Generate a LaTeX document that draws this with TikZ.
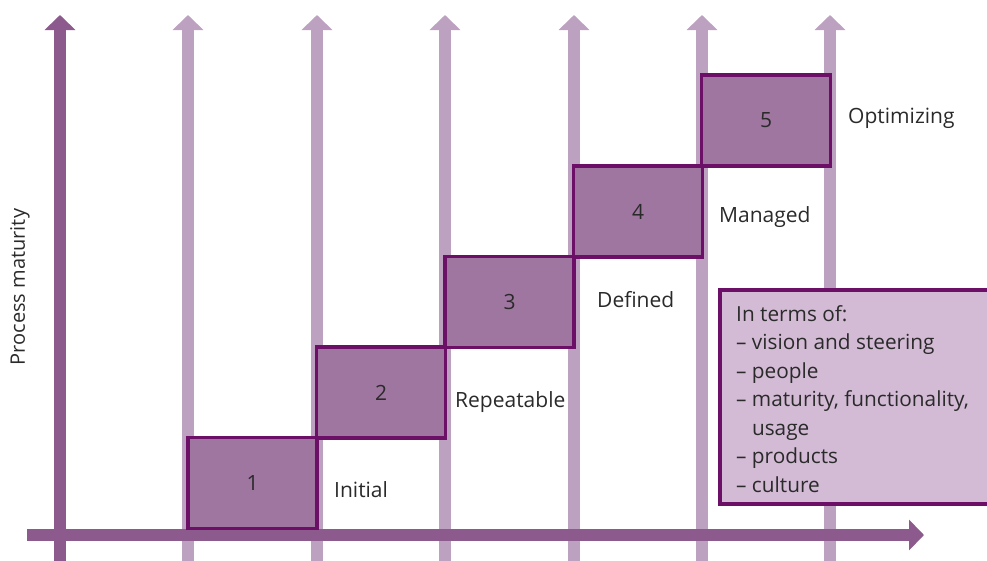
\documentclass[tikz,border=0pt]{standalone}
\usepackage{fontspec}
\setmainfont{Open Sans}
\usetikzlibrary{arrows.meta}
\definecolor{axisc}{HTML}{8C5A8C}
\definecolor{lightc}{HTML}{BDA1C1}
\definecolor{boxfill}{HTML}{9E76A0}
\definecolor{boxline}{HTML}{6B0F67}
\definecolor{infofill}{HTML}{D3BBD6}
\definecolor{txt}{HTML}{2A2A2A}
\tikzset{
  lightarrow/.style={draw=lightc, line width=12pt, -{Triangle[length=15pt,width=30pt]}},
  mainarrow/.style={draw=axisc, line width=12pt, -{Triangle[length=15pt,width=30pt]}},
  stagebox/.style={draw=boxline, fill=boxfill, line width=3.5pt, minimum width=129pt, minimum height=91pt, inner sep=0pt, text=txt, font=\fontsize{21}{25}\selectfont},
  levellabel/.style={anchor=base west, inner sep=0pt, text=txt, font=\fontsize{21}{25}\selectfont},
}
\begin{document}
\begin{tikzpicture}[x=1pt,y=-1pt]
\clip (0,0) rectangle (987,560);
% light vertical arrows
\foreach \x/\n in {188/a1,317/a2,445/a3,574/a4,702/a5,830/a6}{
  \coordinate (\n s) at (\x,562);
  \coordinate (\n t) at (\x,15);
  \draw[lightarrow] (\n s) -- (\n t);
}
% main vertical axis
\coordinate (ys) at (60,562);
\coordinate (yt) at (60,15);
\draw[mainarrow] (ys) -- (yt);
% horizontal axis
\coordinate (xs) at (27,535);
\coordinate (xt) at (924,535);
\draw[mainarrow] (xs) -- (xt);
% stage boxes
\node[stagebox] (b1) at (252.5,483) {1};
\node[stagebox] (b2) at (381,392.5) {2};
\node[stagebox] (b3) at (509.5,302) {3};
\node[stagebox] (b4) at (638,211.5) {4};
\node[stagebox] (b5) at (766,120.5) {5};
% labels
\node[levellabel] (l1) at (334,497) {Initial};
\node[levellabel] (l2) at (455,407) {Repeatable};
\node[levellabel] (l3) at (597,307) {Defined};
\node[levellabel] (l4) at (719,222) {Managed};
\node[levellabel] (l5) at (848,123) {Optimizing};
% info box
\draw[draw=boxline, fill=infofill, line width=3.5pt] (720,290) rectangle (1000,504);
\node[anchor=north west, inner sep=0pt, align=left, text=txt, font=\fontsize{20.8}{28.5}\selectfont] (info) at (736,305)
  {In terms of:\\
   – vision and steering\\
   – people\\
   – maturity, functionality,\\
   \phantom{– }usage\\
   – products\\
   – culture};
% y-axis label
\node[rotate=90, inner sep=0pt, text=txt, font=\fontsize{20}{24}\selectfont] (ylab) at (20,287) {Process maturity};
\end{tikzpicture}
\end{document}
